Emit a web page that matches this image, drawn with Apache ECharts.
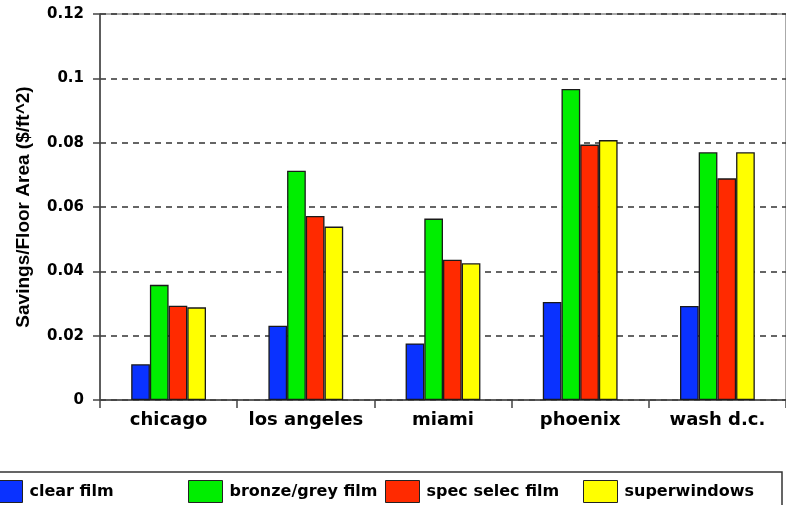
<!DOCTYPE html>
<html>
<head>
<meta charset="utf-8">
<script src="https://cdn.jsdelivr.net/npm/echarts@6/dist/echarts.min.js"></script>
<style>
html,body{margin:0;padding:0;background:#fff;}
#chart{width:786px;height:505px;}
</style>
</head>
<body>
<div id="chart"></div>
<script>
var categories = ['chicago', 'los angeles', 'miami', 'phoenix', 'wash d.c.'];
var seriesNames = ['clear film', 'bronze/grey film', 'spec selec film', 'superwindows'];
var clearFilm = [0.0111, 0.0231, 0.0176, 0.0305, 0.0292];
var bronzeGreyFilm = [0.0358, 0.0713, 0.0564, 0.0967, 0.0770];
var specSelecFilm = [0.0293, 0.0572, 0.0436, 0.0794, 0.0689];
var superwindows = [0.0288, 0.0539, 0.0425, 0.0808, 0.0770];
var colors = ['#0a32ff', '#00ee00', '#ff2a00', '#ffff00'];
var legendLefts = [-12, 188, 385, 583];

var values = [clearFilm, bronzeGreyFilm, specSelecFilm, superwindows];
var chart = echarts.init(document.getElementById('chart'), null, {renderer: 'canvas'});

var series = seriesNames.map(function (n, i) {
  return {
    name: n,
    type: 'bar',
    data: values[i],
    barWidth: 18.7,
    barGap: '0%',
    itemStyle: {color: colors[i], borderColor: '#1a1a1a', borderWidth: 1.3},
    emphasis: {disabled: true}
  };
});

var legends = seriesNames.map(function (n, i) {
  return {
    data: [n],
    left: legendLefts[i],
    top: 480,
    itemWidth: 34,
    itemHeight: 22,
    itemGap: 0,
    selectedMode: false,
    padding: 0,
    icon: 'rect',
    itemStyle: {borderColor: '#222', borderWidth: 1},
    textStyle: {fontFamily: 'DejaVu Sans', fontWeight: 'bold', fontSize: 16, color: '#000', padding: [0, 0, 0, 2]}
  };
});

chart.setOption({
  animation: false,
  backgroundColor: '#fff',
  grid: {left: 100, top: 14, width: 690, height: 386, show: true, borderColor: '#555', borderWidth: 1, backgroundColor: 'transparent'},
  legend: legends,
  xAxis: {
    type: 'category',
    data: categories,
    axisLine: {lineStyle: {color: '#444', width: 1.5}},
    axisTick: {show: true, interval: 0, length: 8, lineStyle: {color: '#444', width: 1.5}},
    axisLabel: {interval: 0, fontFamily: 'DejaVu Sans', fontWeight: 'bold', fontSize: 18, color: '#000', margin: 11},
    splitLine: {show: false}
  },
  yAxis: {
    type: 'value',
    min: 0,
    max: 0.12,
    interval: 0.02,
    name: 'Savings/Floor Area ($/ft^2)',
    nameLocation: 'middle',
    nameGap: 67,
    nameTextStyle: {fontFamily: 'Liberation Sans', fontWeight: 'bold', fontSize: 19, color: '#000'},
    axisLine: {show: true, lineStyle: {color: '#444', width: 1.5}},
    axisTick: {show: true, length: 7, lineStyle: {color: '#444', width: 1.5}},
    axisLabel: {
      fontFamily: 'DejaVu Sans', fontWeight: 'bold', fontSize: 15, color: '#000', margin: 16,
      formatter: function (v) { return String(+v.toFixed(2)); }
    },
    splitLine: {show: true, lineStyle: {color: '#333', type: [6, 5], width: 1.5}}
  },
  graphic: [{
    type: 'rect',
    shape: {x: -5, y: 472, width: 787, height: 60},
    style: {fill: 'none', stroke: '#333', lineWidth: 1.5},
    silent: true,
    z: -1
  }],
  series: series
});
</script>
</body>
</html>
